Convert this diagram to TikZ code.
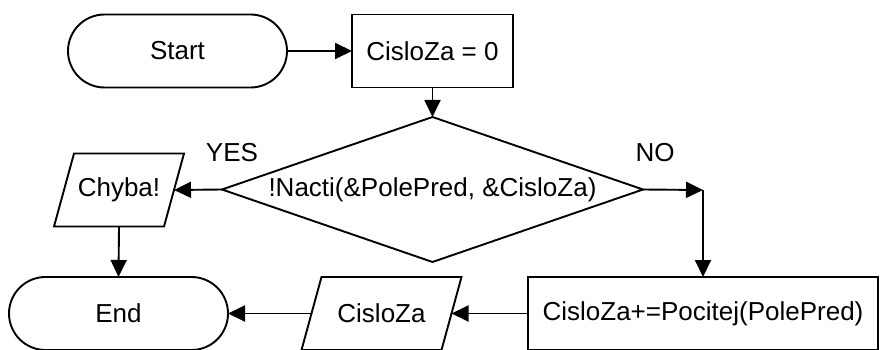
\documentclass[tikz,border=0pt]{standalone}
\usepackage{fontspec}
\setmainfont{Liberation Sans}
\usetikzlibrary{arrows.meta,shapes.geometric}
\tikzset{
  ln/.style={line width=1.9pt, black},
  conn/.style={ln, -{Triangle[length=17pt,width=16pt]}},
  txt/.style={font=\fontsize{26}{31}\selectfont, inner sep=0pt, outer sep=0pt},
  term/.style={txt, draw, ln, rounded corners=36.5pt, minimum width=219pt, minimum height=73pt},
  procbox/.style={txt, draw, ln, minimum height=73pt},
  iobox/.style={txt, minimum height=73pt},
  decision/.style={txt, draw, ln, diamond, aspect=2.9, minimum width=421pt, minimum height=145pt},
  lbl/.style={txt}
}
\begin{document}
\begin{tikzpicture}[x=1pt,y=-1pt]
\useasboundingbox (0,0) rectangle (888,350);
\node[term] (start) at (177.5,51) {Start};
\node[procbox, minimum width=161pt] (init) at (432.5,51) {CisloZa = 0};
\node[decision] (dec) at (432.5,189.5) {!Nacti(\&PolePred, \&CisloZa)};
\node[iobox, minimum width=110pt] (chyba) at (119,190) {Chyba!};
\node[term] (end) at (118.5,313.5) {End};
\node[iobox, minimum width=140pt] (out) at (381.5,313.5) {CisloZa};
\node[procbox, minimum width=350pt] (calc) at (703,313.5) {CisloZa+=Pocitej(PolePred)};
\coordinate (corner) at (703,190);
\node[lbl] (yes) at (232,153) {YES};
\node[lbl] (no) at (655,153) {NO};
% parallelograms
\draw[ln] ([xshift=-10pt]chyba.south west) -- ([xshift=10pt]chyba.north west) -- ([xshift=10pt]chyba.north east) -- ([xshift=-10pt]chyba.south east) -- cycle;
\draw[ln] ([xshift=-10pt]out.south west) -- ([xshift=10pt]out.north west) -- ([xshift=10pt]out.north east) -- ([xshift=-10pt]out.south east) -- cycle;
% connectors
\draw[conn] (start.east) -- (init.west);
\draw[conn] (init.south) -- (dec.north);
\draw[conn] (dec.west) -- (chyba.east);
\draw[conn] (dec.east) -- (corner);
\draw[conn] (corner) -- (calc.north);
\draw[conn] (chyba.south) -- (end.north);
\draw[conn] (calc.west) -- (out.east);
\draw[conn] (out.west) -- (end.east);
\end{tikzpicture}
\end{document}
